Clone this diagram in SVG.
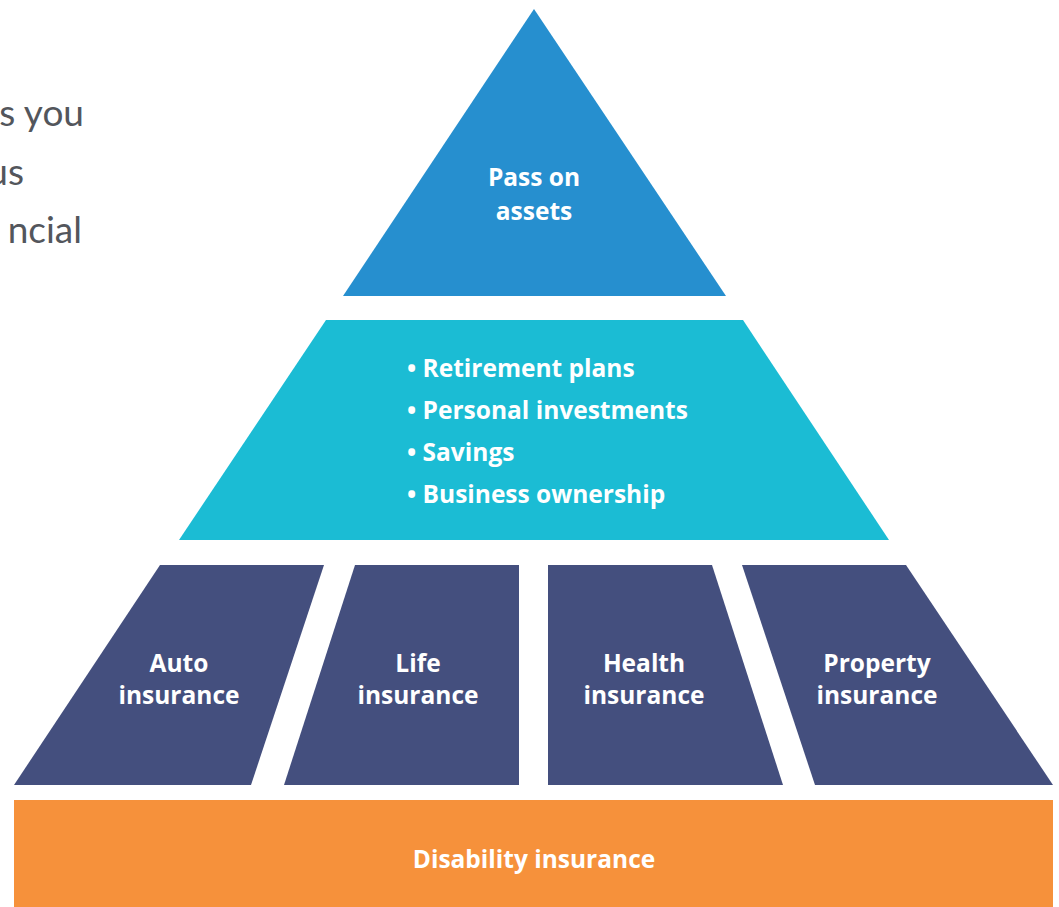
<svg xmlns="http://www.w3.org/2000/svg" width="1059" height="907" viewBox="0 0 1059 907">
<style>
.lbl{font-family:"Open Sans","Liberation Sans",sans-serif;font-weight:700;font-size:24.5px;fill:#ffffff}
.c{text-anchor:middle}
.side{font-family:Lato,"Open Sans","Liberation Sans",sans-serif;font-size:37px;fill:#53565c;text-anchor:end}
.dark{fill:#444f7e}
</style>
<rect width="1059" height="907" fill="#ffffff"/>
<g id="intro-text">
<text class="side" x="84" y="126">s you</text>
<text class="side" x="24" y="185">us</text>
<text class="side" x="82" y="243">ncial</text>
</g>
<g id="pass-on-assets">
<polygon points="534,9 726,296 343,296" fill="#268fcf"/>
<text class="lbl c" x="534" y="186">Pass on</text>
<text class="lbl c" x="534" y="220">assets</text>
</g>
<g id="growth">
<polygon points="326,320 743,320 889,540 179,540" fill="#1bbcd4"/>
<text class="lbl" x="407" y="377">• Retirement plans</text>
<text class="lbl" x="407" y="419">• Personal investments</text>
<text class="lbl" x="407" y="461">• Savings</text>
<text class="lbl" x="407" y="503">• Business ownership</text>
</g>
<g id="auto-insurance">
<polygon class="dark" points="160,565 324,565 251,785 14,785"/>
<text class="lbl c" x="179" y="672">Auto</text>
<text class="lbl c" x="179" y="704">insurance</text>
</g>
<g id="life-insurance">
<polygon class="dark" points="355,565 519,565 519,785 284,785"/>
<text class="lbl c" x="418" y="672">Life</text>
<text class="lbl c" x="418" y="704">insurance</text>
</g>
<g id="health-insurance">
<polygon class="dark" points="548,565 712,565 783,785 548,785"/>
<text class="lbl c" x="644" y="672">Health</text>
<text class="lbl c" x="644" y="704">insurance</text>
</g>
<g id="property-insurance">
<polygon class="dark" points="742,565 906,565 1053,785 815,785"/>
<text class="lbl c" x="877" y="672">Property</text>
<text class="lbl c" x="877" y="704">insurance</text>
</g>
<g id="disability-insurance">
<rect x="14" y="800" width="1039" height="107" fill="#f6913b"/>
<text class="lbl c" x="534" y="868">Disability insurance</text>
</g>
<g id="connectors"></g>
</svg>
